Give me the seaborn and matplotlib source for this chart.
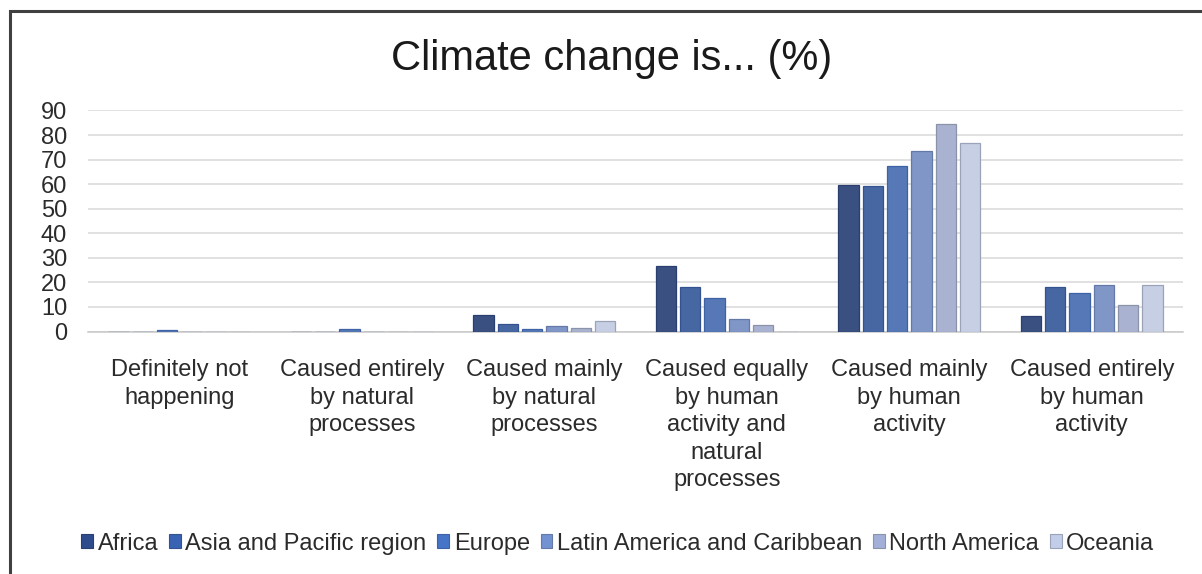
import matplotlib
matplotlib.use("Agg")
import matplotlib.pyplot as plt
from matplotlib.patches import Rectangle
import seaborn as sns
import pandas as pd

categories = [
    "Definitely not\nhappening",
    "Caused entirely\nby natural\nprocesses",
    "Caused mainly\nby natural\nprocesses",
    "Caused equally\nby human\nactivity and\nnatural\nprocesses",
    "Caused mainly\nby human\nactivity",
    "Caused entirely\nby human\nactivity",
]
regions = ["Africa", "Asia and Pacific region", "Europe",
           "Latin America and Caribbean", "North America", "Oceania"]

africa = [0, 0, 6.7, 26.6, 59.8, 6.4]
asia_pacific = [0, 0, 3.1, 18.1, 59.4, 18.1]
europe = [0.5, 1.0, 1.0, 13.6, 67.6, 15.8]
latin_america = [0, 0, 2.2, 5.2, 73.5, 19.1]
north_america = [0, 0, 1.4, 2.8, 84.4, 10.7]
oceania = [0, 0, 4.4, 0, 76.6, 19.0]

series = [africa, asia_pacific, europe, latin_america, north_america, oceania]
colors = ["#2E4C8C", "#3862B2", "#4674C6", "#7392D2", "#A2B0D8", "#C2CDE9"]
edges = ["#2A3F70", "#34528F", "#3D62A6", "#6479A8", "#8A93A8", "#9AA3B8"]

rows = []
for region, vals in zip(regions, series):
    for cat, v in zip(categories, vals):
        rows.append({"category": cat, "region": region, "value": v})
df = pd.DataFrame(rows)

sns.set_theme(style="white")
plt.rcParams["font.family"] = ["Liberation Sans", "DejaVu Sans"]

fig = plt.figure(figsize=(12.02, 5.74), dpi=100)
ax = fig.add_axes([88 / 1202, 242.5 / 574, (1183 - 88) / 1202, 221 / 574])

sns.barplot(data=df, x="category", y="value", hue="region",
            order=categories, hue_order=regions, palette=colors,
            width=0.8, gap=0.16, ax=ax, legend=False, zorder=3)

for i, container in enumerate(ax.containers):
    for bar in container:
        bar.set_edgecolor(edges[i])
        bar.set_linewidth(0.9)

ax.set_ylim(0, 90)
ax.set_xlim(-0.5, len(categories) - 0.5)
ax.set_yticks(range(0, 91, 10))
ax.yaxis.grid(True, color="#D9D9D9", linewidth=1.1, zorder=0)
ax.set_axisbelow(True)
for side in ["top", "right", "left"]:
    ax.spines[side].set_visible(False)
ax.spines["bottom"].set_color("#C8C8C8")
ax.spines["bottom"].set_linewidth(1.1)
ax.set_xlabel("")
ax.set_ylabel("")
ax.tick_params(axis="y", length=0, pad=15, labelsize=17, labelcolor="#2B2B2B")
ax.tick_params(axis="x", length=0, pad=20, labelsize=17, labelcolor="#2B2B2B")
for lbl in ax.get_xticklabels():
    lbl.set_linespacing(1.32)
    lbl.set_horizontalalignment("center")

fig.text(0.509, 0.897, "Climate change is... (%)", ha="center", va="center",
         fontsize=30, color="#1A1A1A")

handles = [Rectangle((0, 0), 1, 1, facecolor=c, edgecolor=e, linewidth=0.8)
           for c, e in zip(colors, edges)]
fig.legend(handles, regions, loc="center", bbox_to_anchor=(0.514, 0.053),
           ncol=6, frameon=False, fontsize=17, handlelength=0.5,
           handleheight=0.5, handletextpad=0.2, columnspacing=0.45,
           labelcolor="#2B2B2B")

frame = Rectangle((10 / 1202, -0.05), 1.2, 1 - 11 / 574 + 0.05,
                  transform=fig.transFigure, fill=False,
                  edgecolor="#404040", linewidth=2.2, zorder=10)
fig.patches.append(frame)

fig.savefig("out.png", dpi=100, facecolor="white")
